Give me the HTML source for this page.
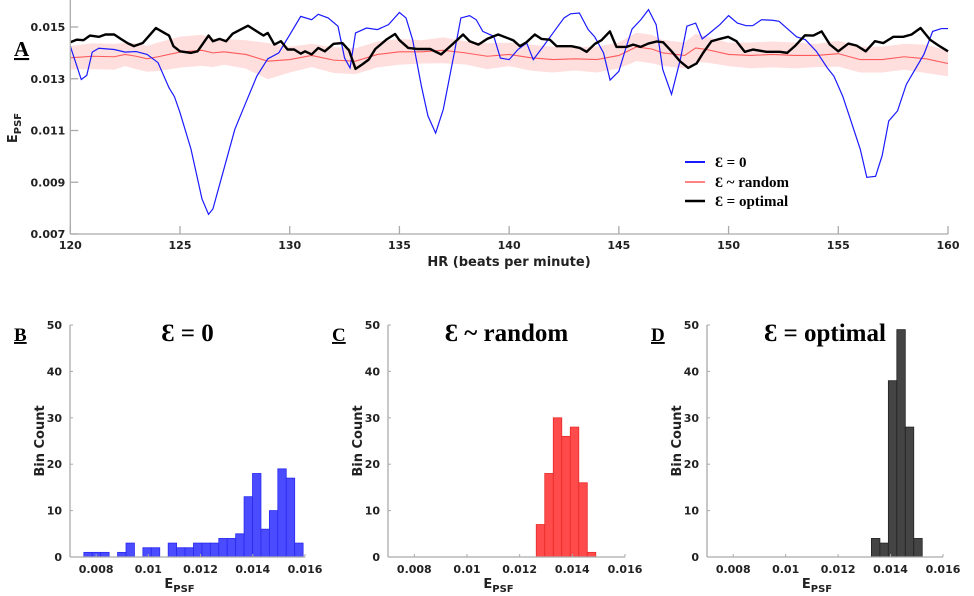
<!DOCTYPE html>
<html><head><meta charset="utf-8">
<style>
body{margin:0;background:#fff;}
svg{display:block;}
.tk{font-family:"DejaVu Sans","Liberation Sans",sans-serif;font-weight:bold;font-size:11px;fill:#222;}
.lab{font-family:"DejaVu Sans","Liberation Sans",sans-serif;font-weight:bold;font-size:13px;fill:#222;}
.ser{font-family:"Liberation Serif",serif;font-weight:bold;fill:#000;}
</style></head><body>
<svg id="fig" width="974" height="596" viewBox="0 0 974 596" xmlns="http://www.w3.org/2000/svg">
<g id="top"></g>
<g id="hB"></g>
<g id="hC"></g>
<g id="hD"></g>
</svg>
<script>
// ---- Panel A data ----
const blueHR=[120,120.5,120.75,121,121.3,122,122.5,123,123.5,124,124.5,124.75,125,125.5,126,126.3,126.5,127,127.5,128,128.5,129,129.5,130,130.5,131,131.3,131.75,132.2,132.5,132.75,133,133.5,134,134.5,135,135.3,135.6,136,136.3,136.65,137,137.5,137.8,138.2,138.5,138.8,139.3,139.6,140,140.4,140.8,141.1,141.5,142,142.5,142.8,143.2,143.6,143.9,144.3,144.6,145,145.3,145.6,146,146.35,146.7,147,147.4,147.8,148.1,148.5,148.8,149.1,149.6,150,150.4,150.8,151.1,151.5,152,152.3,152.7,153.1,153.5,154,154.5,154.8,155.2,155.6,156,156.3,156.7,157,157.3,157.7,158.1,158.5,158.9,159.3,159.7,160];
const blueVal=[0.01426,0.01297,0.01313,0.01403,0.01418,0.01413,0.01403,0.01405,0.01394,0.01362,0.01265,0.0123,0.01169,0.01028,0.00836,0.00776,0.00797,0.00951,0.01105,0.01208,0.0131,0.01377,0.0140,0.0147,0.01541,0.01528,0.01549,0.01535,0.01503,0.0138,0.01342,0.01477,0.01496,0.0149,0.01509,0.01556,0.01535,0.01451,0.01272,0.01156,0.0109,0.01182,0.0140,0.01535,0.01544,0.01528,0.01483,0.01464,0.0138,0.01374,0.01413,0.01438,0.01374,0.01419,0.01477,0.01535,0.01551,0.01554,0.0149,0.01462,0.0140,0.01295,0.01329,0.01413,0.01492,0.01528,0.01567,0.01509,0.01336,0.0124,0.01374,0.01503,0.01515,0.01454,0.01474,0.01509,0.01544,0.01515,0.01505,0.01505,0.01528,0.01526,0.01522,0.01492,0.01462,0.01451,0.01406,0.01342,0.0131,0.01233,0.01131,0.01028,0.00919,0.00923,0.01003,0.01137,0.01176,0.01278,0.01336,0.01394,0.01483,0.01494,0.01494];
const blackHR=[120,120.3,120.6,120.9,121.3,121.6,122,122.3,122.6,122.9,123.3,123.9,124.5,124.7,125,125.5,125.8,126.3,126.5,126.8,127.1,127.4,128.1,128.5,128.8,129,129.3,129.6,129.9,130.2,130.5,130.7,131,131.3,131.6,132,132.4,132.7,133,133.3,133.6,133.9,134.4,134.8,135,135.4,135.8,136.4,136.9,137.4,137.9,138.2,138.6,139,139.5,140.18,140.49,140.79,141.17,141.47,141.85,142.16,142.84,143.22,143.53,143.91,144.21,144.59,144.89,145.35,145.65,145.99,146.34,146.72,147.02,147.4,147.78,148.16,148.54,148.84,149.22,149.6,149.98,150.36,150.74,151.12,151.73,152.34,152.67,153.02,153.48,153.86,154.24,154.62,155,155.46,155.84,156.25,156.67,157.05,157.51,157.96,158.34,158.75,159.18,159.56,160];
const blackVal=[0.01441,0.01451,0.01449,0.01467,0.01462,0.01471,0.01471,0.01454,0.01438,0.01426,0.01438,0.01496,0.01467,0.01426,0.01406,0.0140,0.01406,0.01467,0.01445,0.01454,0.01445,0.01474,0.01505,0.01483,0.01467,0.01477,0.01432,0.01445,0.01413,0.01413,0.01397,0.01406,0.01394,0.01419,0.01406,0.01435,0.01438,0.0141,0.01338,0.01355,0.01374,0.01415,0.01451,0.01473,0.01449,0.01419,0.01415,0.01415,0.01394,0.01432,0.01471,0.01445,0.01432,0.01454,0.01471,0.01449,0.01426,0.01441,0.01471,0.01454,0.01451,0.01426,0.01426,0.01419,0.01404,0.01435,0.01449,0.01483,0.01423,0.01423,0.01432,0.01423,0.01436,0.01444,0.01441,0.01406,0.01368,0.01342,0.01359,0.0140,0.01445,0.01454,0.01462,0.01445,0.01404,0.01413,0.01404,0.01404,0.0140,0.01426,0.01468,0.01467,0.01483,0.01432,0.01406,0.01436,0.01428,0.01406,0.01445,0.01438,0.01462,0.01462,0.01471,0.01496,0.01451,0.01429,0.01406];
const redHR=[120,121,122,122.5,123,123.5,124,125,126,126.5,127,128,129,130,131,132,133,134,135,136,137,138,139,140,141,142,143,144,145,145.8,146.5,147,148,148.5,149,150,151,152,153,154,155,156,157,158,159,160];
const redVal=[0.01381,0.01387,0.01385,0.01394,0.01387,0.01377,0.01385,0.01403,0.0141,0.0140,0.01404,0.01394,0.01368,0.01374,0.0139,0.01372,0.01368,0.01394,0.01404,0.01404,0.0141,0.0140,0.01387,0.01394,0.01381,0.01374,0.01377,0.01374,0.0139,0.01423,0.01415,0.0140,0.0139,0.01419,0.01413,0.01394,0.0139,0.01394,0.0139,0.0139,0.01397,0.01374,0.01374,0.01385,0.01377,0.01359];
const redSpread=[0.00045,0.0005,0.0005,0.00045,0.0005,0.0005,0.00055,0.0006,0.0006,0.00055,0.0005,0.00055,0.0007,0.0005,0.00045,0.0005,0.0005,0.0005,0.0005,0.00045,0.0005,0.00045,0.0005,0.00045,0.0005,0.0005,0.00045,0.0005,0.0005,0.00055,0.00055,0.0005,0.0005,0.00055,0.0005,0.00045,0.0005,0.0005,0.0005,0.00045,0.0005,0.0005,0.0005,0.0005,0.00055,0.0005];
const topXTicks=[120,125,130,135,140,145,150,155,160];
const topYTicks=[0.007,0.009,0.011,0.013,0.015];
const topYLabels=["0.007","0.009","0.011","0.013","0.015"];
// ---- Histogram data ----
const histXTicks=[0.008,0.01,0.012,0.014,0.016];
const histXLabels=["0.008","0.01","0.012","0.014","0.016"];
const histYTicks=[0,10,20,30,40,50];
const binWidth=0.000323;
const bStart=0.00753;
const bCounts=[1,1,1,0,1,3,0,2,2,0,3,2,2,3,3,3,4,4,5,13,18,6,10,19,17,3];
const cStart=0.01263;
const cCounts=[7,18,30,26,28,16,1];
const dStart=0.01327;
const dCounts=[4,3,38,49,28,4];

const NS="http://www.w3.org/2000/svg";
function mk(parent,tag,attrs,text){const e=document.createElementNS(NS,tag);for(const k in attrs)e.setAttribute(k,attrs[k]);if(text!==undefined)e.textContent=text;parent.appendChild(e);return e;}
const AX="#aaaaaa";

// ---- Panel A ----
(function(){
 const g=document.getElementById('top');
 const X0=70.3,X1=948,Y0=234,pxPerUnit=25875;
 const xs=v=>X0+(v-120)/40*(X1-X0);
 const ys=v=>Y0-(v-0.007)*pxPerUnit;
 let up=redHR.map((h,i)=>xs(h)+','+ys(redVal[i]+redSpread[i]));
 let lo=redHR.map((h,i)=>xs(h)+','+ys(redVal[i]-redSpread[i])).reverse();
 const band=mk(g,'polygon',{points:up.concat(lo).join(' '),fill:'#ffdede',stroke:'none'});
 
 
 const red=mk(g,'polyline',{points:redHR.map((h,i)=>xs(h)+','+ys(redVal[i])).join(' '),fill:'none',stroke:'#ff5a5a','stroke-width':1.1});
 
 
 const blue=mk(g,'polyline',{points:blueHR.map((h,i)=>xs(h)+','+ys(blueVal[i])).join(' '),fill:'none',stroke:'#1a1aff','stroke-width':1.2});
 
 
 const blk=mk(g,'polyline',{points:blackHR.map((h,i)=>xs(h)+','+ys(blackVal[i])).join(' '),fill:'none',stroke:'#000','stroke-width':2.4,'stroke-linejoin':'round'});
 
 
 mk(g,'line',{x1:X0,y1:0,x2:X0,y2:Y0,stroke:AX,'stroke-width':1.3});
 mk(g,'line',{x1:X0,y1:Y0,x2:X1,y2:Y0,stroke:AX,'stroke-width':1.3});
 topXTicks.forEach(t=>{mk(g,'line',{x1:xs(t),y1:Y0,x2:xs(t),y2:Y0-8,stroke:AX,'stroke-width':1.3});
  const tl=mk(g,'text',{x:xs(t),y:Y0+15,'text-anchor':'middle',class:'tk'},String(t));
  
  });
 topYTicks.forEach((t,i)=>{mk(g,'line',{x1:X0,y1:ys(t),x2:X0+8,y2:ys(t),stroke:AX,'stroke-width':1.3});
  const tl=mk(g,'text',{x:X0-5,y:ys(t)+4,'text-anchor':'end',class:'tk'},topYLabels[i]);
  
  });
 const xt=mk(g,'text',{x:509,y:266,'text-anchor':'middle',class:'lab'},'HR (beats per minute)');
 
 
 const yt=mk(g,'text',{x:0,y:0,transform:'translate(17,128) rotate(-90)','text-anchor':'middle',class:'lab'});
 
 
 mk(yt,'tspan',{},'E');mk(yt,'tspan',{dy:4,'font-size':'10px'},'PSF');
 const pa=mk(g,'text',{x:14,y:56,class:'ser','font-size':'21px','text-decoration':'underline'},'A');
 
 
 const leg=mk(g,'g',{});
 
 
 const items=[['#1a1aff','Ɛ = 0',162,2],['#ff5a5a','Ɛ ~ random',182,1.5],['#000','Ɛ = optimal',201,2.5]];
 items.forEach(it=>{const e=mk(leg,'g',{});
  
  
  mk(e,'line',{x1:685,y1:it[2],x2:705,y2:it[2],stroke:it[0],'stroke-width':it[3]});
  mk(e,'text',{x:715,y:it[2]+5,class:'ser','font-size':'15px'},it[1]);});
})();

// ---- Histograms ----
function hist(id,x0,x1,start,counts,fill,stroke,title,letter){
 const g=document.getElementById(id);
 const Y0=557,Y1=325;
 const xs=v=>x0+(v-0.007)/0.009*(x1-x0);
 const ys=v=>Y0-v/50*(Y0-Y1);
 counts.forEach((c,i)=>{if(c<=0)return;
  const a=xs(start+i*binWidth),b=xs(start+(i+1)*binWidth);
  const r=mk(g,'rect',{x:a,y:ys(c),width:b-a,height:Y0-ys(c),fill:fill,stroke:stroke,'stroke-width':0.8});
  
  });
 mk(g,'line',{x1:x0,y1:Y1,x2:x0,y2:Y0,stroke:AX,'stroke-width':1.3});
 mk(g,'line',{x1:x0,y1:Y0,x2:x1,y2:Y0,stroke:AX,'stroke-width':1.3});
 histXTicks.forEach((t,i)=>{mk(g,'line',{x1:xs(t),y1:Y0,x2:xs(t),y2:Y0-3,stroke:AX,'stroke-width':1});
  const tl=mk(g,'text',{x:xs(t),y:Y0+16,'text-anchor':'middle',class:'tk'},histXLabels[i]);
  
  });
 histYTicks.forEach(t=>{mk(g,'line',{x1:x0,y1:ys(t),x2:x0+3,y2:ys(t),stroke:AX,'stroke-width':1});
  const tl=mk(g,'text',{x:x0-8,y:ys(t)+4,'text-anchor':'end',class:'tk'},String(t));
  
  });
 const yt=mk(g,'text',{x:0,y:0,transform:`translate(${x0-26},${441}) rotate(-90)`,'text-anchor':'middle',class:'lab'},'Bin Count');
 
 
 const xt=mk(g,'text',{x:(x0+x1)/2-8,y:588,'text-anchor':'middle',class:'lab'});
 
 
 mk(xt,'tspan',{},'E');mk(xt,'tspan',{dy:4,'font-size':'10px'},'PSF');
 const tt=mk(g,'text',{x:(x0+x1)/2,y:341,'text-anchor':'middle',class:'ser','font-size':'25px'},title);
 
 
 const pl=mk(g,'text',{x:x0-56,y:341,class:'ser','font-size':'19px','text-decoration':'underline'},letter);
 
 
}
hist('hB',70,305,bStart,bCounts,'#4b4bff','#2a2af0','Ɛ = 0','B');
hist('hC',388,625,cStart,cCounts,'#ff4b4b','#e82a2a','Ɛ ~ random','C');
hist('hD',707,943,dStart,dCounts,'#444444','#222222','Ɛ = optimal','D');
</script>
</body></html>
